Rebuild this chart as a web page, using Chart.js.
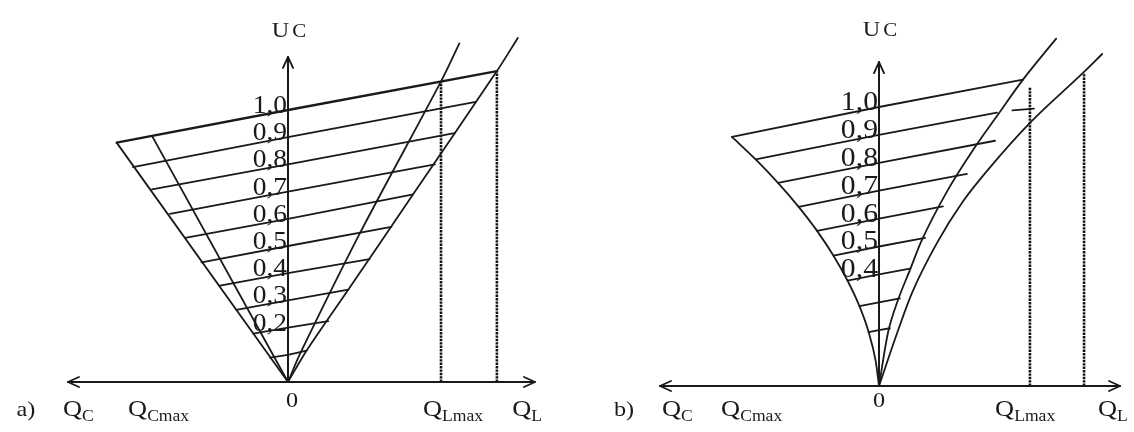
<!DOCTYPE html>
<html>
<head>
<meta charset="utf-8">
<script src="https://cdn.jsdelivr.net/npm/chart.js@4.4.1/dist/chart.umd.min.js"></script>
<style>
  html, body { margin: 0; padding: 0; background: #fff; }
  #wrap { position: relative; width: 1134px; height: 432px; }
  #wrap canvas { position: absolute; top: 0; }
</style>
</head>
<body>
<div id="wrap">
  <canvas id="chart-a" width="567" height="432" style="left:0"></canvas>
  <canvas id="chart-b" width="567" height="432" style="left:567px"></canvas>
</div>
<script>
// ---- panel a) : straight boundaries ----
const aLevels = [1.0, 0.9, 0.8, 0.7, 0.6, 0.5, 0.4, 0.3, 0.2, 0.1];
const aLevelLabels = ['1,0', '0,9', '0,8', '0,7', '0,6', '0,5', '0,4', '0,3', '0,2'];
const aLeftX = [-0.630, -0.570, -0.500, -0.434, -0.378, -0.318, -0.250, -0.190, -0.128, -0.066];
const aLeftY = [0.880, 0.790, 0.708, 0.618, 0.530, 0.440, 0.354, 0.265, 0.178, 0.090];
const aRightX = [0.768, 0.690, 0.612, 0.540, 0.460, 0.380, 0.300, 0.222, 0.148, 0.068];
const aRightY = [1.143, 1.030, 0.915, 0.800, 0.690, 0.570, 0.452, 0.340, 0.224, 0.115];
const aQcCurve = [[0, 0], [-0.630, 0.880]];
const aQcMaxCurve = [[0, 0], [-0.500, 0.905]];
const aQlMaxCurve = [[0, 0], [0.045, 0.105], [0.265, 0.548], [0.5625, 1.105], [0.630, 1.245]];
const aQlCurve = [[0, 0], [0.068, 0.115], [0.222, 0.340], [0.460, 0.690], [0.768, 1.143], [0.845, 1.265]];
const aQlMaxDrop = [[0.5625, 0], [0.5625, 1.105]];
const aQlDrop = [[0.768, 0], [0.768, 1.143]];
const aAxisX = [-0.809, 0.908];
const aAxisTop = 1.195;

// ---- panel b) : curved boundaries ----
const bLevels = [1.0, 0.9, 0.8, 0.7, 0.6, 0.5, 0.4, 0.3, 0.2];
const bLevelLabels = ['1,0', '0,9', '0,8', '0,7', '0,6', '0,5', '0,4'];
const bLeftX = [-0.527, -0.442, -0.362, -0.288, -0.222, -0.163, -0.113, -0.070, -0.037];
const bLeftY = [0.893, 0.812, 0.728, 0.642, 0.556, 0.467, 0.378, 0.286, 0.193];
const bRightX = [0.516, 0.423, 0.416, 0.315, 0.229, 0.165, 0.111, 0.075, 0.039];
const bRightY = [1.098, 0.980, 0.879, 0.760, 0.644, 0.531, 0.421, 0.314, 0.207];
const bQcCurve = [[-0.527, 0.893], [-0.442, 0.812], [-0.362, 0.728], [-0.288, 0.642], [-0.222, 0.556],
                  [-0.163, 0.467], [-0.113, 0.378], [-0.070, 0.286], [-0.037, 0.193], [-0.012, 0.090], [0, 0]];
const bQlMaxCurve = [[0, 0], [0.032, 0.190], [0.068, 0.308], [0.111, 0.416], [0.150, 0.515],
                     [0.247, 0.703], [0.337, 0.846], [0.428, 0.975], [0.516, 1.098], [0.635, 1.245]];
const bQlCurve = [[0, 0], [0.065, 0.190], [0.118, 0.333], [0.208, 0.513], [0.300, 0.660],
                  [0.395, 0.780], [0.541, 0.943], [0.731, 1.122], [0.800, 1.190]];
const bStroke09 = [[0.478, 0.988], [0.556, 0.994]];
const bQlMaxDrop = [[0.541, 0], [0.541, 1.072]];
const bQlDrop = [[0.735, 0], [0.735, 1.122]];
const bAxisX = [-0.785, 0.864];
const bAxisTop = 1.161;

const INK = '#1a1a1a';
const SERIF = '"Liberation Serif", "Times New Roman", serif';

function line(points, width = 1.8, extra = {}) {
    return Object.assign({
        data: points.map(([x, y]) => ({ x, y })),
        showLine: true,
        borderColor: INK,
        borderWidth: width,
        pointRadius: 0,
        pointHoverRadius: 0,
        tension: 0,
        fill: false,
        borderCapStyle: 'round',
        borderJoinStyle: 'round',
    }, extra);
}

function dotted(points) {
    return line(points, 2.6, { borderDash: [2.4, 1], borderCapStyle: 'butt', borderColor: '#111' });
}

function drawText(ctx, str, x, y, size, align = 'left', stretch = 1.1) {
    ctx.font = `${size}px ${SERIF}`;
    const w = ctx.measureText(str).width * stretch;
    const left = align === 'right' ? x - w : align === 'center' ? x - w / 2 : x;
    ctx.save();
    ctx.translate(left, y);
    ctx.scale(stretch, 1);
    ctx.textAlign = 'left';
    ctx.textBaseline = 'alphabetic';
    ctx.fillText(str, 0, 0);
    ctx.restore();
    return w;
}

function arrowHead(ctx, x, y, dx, dy) {
    const len = 11, half = 5;
    const bx = x - dx * len, by = y - dy * len;
    const nx = -dy, ny = dx;
    ctx.beginPath();
    ctx.moveTo(bx + nx * half, by + ny * half);
    ctx.lineTo(x, y);
    ctx.lineTo(bx - nx * half, by - ny * half);
    ctx.stroke();
}

// arrows, level numbers and axis captions, placed through the scales
const panelText = {
    id: 'panelText',
    afterDatasetsDraw(chart, args, o) {
        const { ctx } = chart;
        const px = v => chart.scales.x.getPixelForValue(v);
        const py = v => chart.scales.y.getPixelForValue(v);
        ctx.save();
        ctx.strokeStyle = INK;
        ctx.fillStyle = INK;
        ctx.lineWidth = 1.9;
        ctx.lineCap = 'round';
        ctx.lineJoin = 'round';

        arrowHead(ctx, px(o.axisX[0]), py(0), -1, 0);
        arrowHead(ctx, px(o.axisX[1]), py(0), 1, 0);
        arrowHead(ctx, px(0), py(o.axisTop), 0, -1);

        o.labels.forEach((t, i) => {
            drawText(ctx, t, px(0) - 1, py(o.levels[i]) + 3, o.valueSize, 'right');
        });

        // U_C over the vertical axis
        ctx.font = `22px ${SERIF}`;
        const wu = ctx.measureText('U').width * 1.1;
        ctx.font = `19px ${SERIF}`;
        const wc = ctx.measureText('C').width * 1.1;
        const ux = px(0) + 1 - (wu + 3 + wc) / 2;
        drawText(ctx, 'U', ux, py(o.ucY), 22);
        drawText(ctx, 'C', ux + wu + 3, py(o.ucY), 19);

        // captions under the horizontal axis
        drawText(ctx, o.tag, px(o.tagX), py(o.captionY), 22);
        o.qLabels.forEach(q => {
            const w = drawText(ctx, 'Q', px(q.x), py(o.captionY), 24);
            drawText(ctx, q.sub, px(q.x) + w, py(o.captionY) + 5, 16);
        });
        drawText(ctx, '0', px(o.zeroX), py(o.zeroY), 22, 'center');
        ctx.restore();
    }
};

function buildDatasets(levels, leftX, leftY, rightX, rightY, curves, drops, axisX, axisTop, topWidth) {
    const sets = [
        line([[axisX[0], 0], [axisX[1], 0]], 2),
        line([[0, 0], [0, axisTop]], 2),
    ];
    levels.forEach((k, i) => {
        sets.push(line([[leftX[i], leftY[i]], [0, k], [rightX[i], rightY[i]]], i === 0 ? topWidth : 1.8));
    });
    curves.forEach(c => sets.push(line(c.points, 1.8, c.smooth
        ? { cubicInterpolationMode: 'monotone' }
        : { tension: c.tension || 0 })));
    drops.forEach(d => sets.push(dotted(d)));
    return sets;
}

function makeChart(id, datasets, view, text) {
    return new Chart(document.getElementById(id), {
        type: 'scatter',
        data: { datasets },
        options: {
            responsive: false,
            animation: false,
            devicePixelRatio: 1,
            layout: { padding: 0 },
            events: [],
            plugins: {
                legend: { display: false },
                tooltip: { enabled: false },
                panelText: text,
            },
            scales: {
                x: { type: 'linear', display: false, min: view.x[0], max: view.x[1] },
                y: { type: 'linear', display: false, min: view.y[0], max: view.y[1] },
            },
        },
        plugins: [panelText],
    });
}

makeChart('chart-a',
    buildDatasets(aLevels, aLeftX, aLeftY, aRightX, aRightY, [
        { points: aQcCurve },
        { points: aQcMaxCurve },
        { points: aQlMaxCurve, tension: 0.3 },
        { points: aQlCurve, tension: 0.3 },
    ], [aQlMaxDrop, aQlDrop], aAxisX, aAxisTop, 2.4),
    { x: [-1.0588, 1.0257], y: [-0.1838, 1.4044] },
    {
        axisX: aAxisX, axisTop: aAxisTop,
        levels: aLevels, labels: aLevelLabels, valueSize: 25,
        ucY: 1.268,
        tag: 'a)', tagX: -0.998, captionY: -0.125,
        qLabels: [{ sub: 'C', x: -0.827 }, { sub: 'Cmax', x: -0.588 },
                  { sub: 'Lmax', x: 0.496 }, { sub: 'L', x: 0.824 }],
        zeroX: 0.015, zeroY: -0.092,
    });

const bDatasets = buildDatasets(bLevels, bLeftX, bLeftY, bRightX, bRightY, [
    { points: bQcCurve, smooth: true },
    { points: bQlMaxCurve, smooth: true },
    { points: bQlCurve, smooth: true },
], [bQlMaxDrop, bQlDrop], bAxisX, bAxisTop, 1.9);
bDatasets.push(line(bStroke09, 1.6));

makeChart('chart-b', bDatasets,
    { x: [-1.1183, 0.9140], y: [-0.1649, 1.3835] },
    {
        axisX: bAxisX, axisTop: bAxisTop,
        levels: bLevels, labels: bLevelLabels, valueSize: 27,
        ucY: 1.254,
        tag: 'b)', tagX: -0.950, captionY: -0.108,
        qLabels: [{ sub: 'C', x: -0.778 }, { sub: 'Cmax', x: -0.566 },
                  { sub: 'Lmax', x: 0.416 }, { sub: 'L', x: 0.785 }],
        zeroX: 0, zeroY: -0.075,
    });
</script>
</body>
</html>
